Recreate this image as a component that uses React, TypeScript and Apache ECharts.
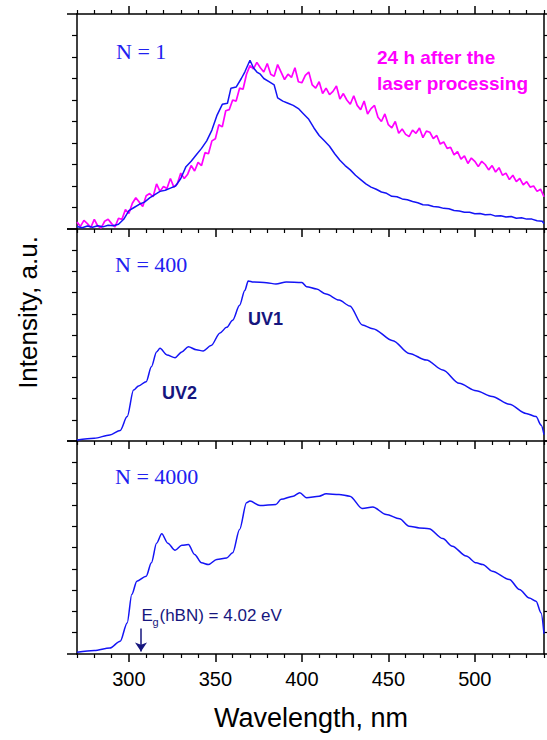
import React, { useEffect, useRef } from "react";
import * as echarts from "echarts";

// ---------- data ----------
const X_MIN = 270;
const X_MAX = 540;
const MAJOR_X = [300, 350, 400, 450, 500];
const MINOR_X = [270, 280, 290, 310, 320, 330, 340, 360, 370, 380, 390, 410, 420, 430, 440, 460, 470, 480, 490, 510, 520, 530, 540];
const X_LABELS = ["300", "350", "400", "450", "500"];

// Panel 1 (N = 1), blue: just after processing
const N1_FRESH: [number, number][] = [
  [270, 0.12], [273, 0.06], [276, 0.14], [279, 0.08], [282, 0.15], [285, 0.1], [288, 0.17], [291, 0.15],
  [294, 0.22], [297, 0.45], [300, 0.85], [303, 1.0], [306, 1.15], [309, 1.25], [312, 1.45], [315, 1.6],
  [318, 1.75], [321, 1.8], [324, 1.9], [327, 2.0], [330, 2.35], [333, 2.9], [336, 3.15], [339, 3.45],
  [342, 3.75], [345, 4.1], [348, 4.6], [351, 5.3], [354, 5.8], [357, 5.85], [359, 6.55], [362, 6.6],
  [365, 7.0], [367, 7.3], [370, 7.85], [372, 7.5], [374, 7.3], [376, 7.2], [378, 7.0], [381, 6.85],
  [384, 6.7], [386, 6.1], [389, 5.95], [392, 5.85], [395, 5.75], [398, 5.6], [401, 5.35], [404, 5.1],
  [407, 4.7], [410, 4.35], [413, 4.1], [416, 3.85], [419, 3.5], [422, 3.2], [425, 2.95], [428, 2.75],
  [431, 2.5], [434, 2.3], [437, 2.1], [440, 1.95], [443, 1.85], [446, 1.72], [449, 1.66], [452, 1.52],
  [455, 1.5], [458, 1.4], [461, 1.36], [464, 1.28], [467, 1.22], [470, 1.13], [473, 1.12], [476, 1.05],
  [479, 1.02], [482, 0.96], [485, 0.94], [488, 0.86], [491, 0.84], [494, 0.78], [497, 0.78], [500, 0.71],
  [503, 0.72], [506, 0.66], [509, 0.68], [512, 0.6], [515, 0.62], [518, 0.56], [521, 0.58], [524, 0.5],
  [527, 0.52], [530, 0.46], [533, 0.46], [536, 0.38], [539, 0.36], [540, 0.25],
];

// Panel 1, magenta: 24 h after the laser processing (noisy)
const N1_AFTER_24H: [number, number][] = [
  [270, 0.32], [272, 0.12], [274, 0.4], [276, 0.25], [278, 0.07], [280, 0.45], [282, 0.14], [284, 0.05],
  [286, 0.36], [288, 0.45], [290, 0.25], [292, 0.1], [294, 0.5], [296, 0.45], [298, 0.9], [300, 0.72],
  [302, 1.2], [304, 1.45], [306, 1.25], [308, 1.05], [310, 1.55], [312, 1.65], [314, 1.5], [316, 2.1],
  [318, 1.75], [320, 1.98], [322, 1.88], [324, 2.35], [326, 1.95], [328, 2.1], [330, 2.6], [332, 2.35],
  [334, 2.55], [336, 2.95], [338, 2.7], [340, 3.1], [342, 2.95], [344, 3.55], [346, 3.5], [348, 4.1],
  [350, 4.2], [352, 4.85], [354, 4.75], [356, 5.5], [358, 5.55], [360, 6.0], [362, 5.95], [364, 6.55],
  [366, 6.5], [368, 7.2], [370, 7.6], [372, 7.45], [374, 7.75], [376, 7.5], [378, 7.3], [380, 7.7],
  [382, 7.2], [384, 7.1], [386, 7.65], [388, 7.3], [390, 6.95], [392, 7.2], [394, 7.05], [396, 7.5],
  [398, 6.85], [400, 6.8], [402, 7.15], [404, 7.3], [406, 6.7], [408, 6.55], [410, 6.85], [412, 6.3],
  [414, 6.55], [416, 6.25], [418, 6.4], [420, 6.65], [422, 6.05], [424, 6.3], [426, 6.0], [428, 5.8],
  [430, 6.2], [432, 5.75], [434, 5.55], [436, 5.95], [438, 5.35], [440, 5.6], [442, 5.75], [444, 5.2],
  [446, 5.0], [448, 5.35], [450, 4.85], [452, 4.7], [454, 5.0], [456, 4.45], [458, 4.65], [460, 4.4],
  [462, 4.3], [464, 4.6], [466, 4.45], [468, 4.7], [470, 4.25], [472, 4.55], [474, 4.5], [476, 4.2],
  [478, 4.35], [480, 3.95], [482, 4.05], [484, 3.75], [486, 3.8], [488, 3.45], [490, 3.6], [492, 3.25],
  [494, 3.4], [496, 3.05], [498, 3.3], [500, 3.15], [502, 2.9], [504, 3.15], [506, 3.0], [508, 2.75],
  [510, 2.95], [512, 2.65], [514, 2.85], [516, 2.5], [518, 2.6], [520, 2.3], [522, 2.5], [524, 2.2],
  [526, 2.35], [528, 2.05], [530, 2.2], [532, 1.95], [534, 2.0], [536, 1.75], [538, 1.85], [540, 1.5],
];

// Panel 2 (N = 400)
const N400: [number, number][] = [
  [270, 0.05], [280, 0.13], [289, 0.28], [295, 0.5], [299, 1.15], [302.7, 2.4], [305.6, 2.6], [310, 2.8],
  [313, 3.5], [316, 4.2], [318, 4.37], [322, 4.06], [326.7, 3.93], [330.6, 4.2], [334.4, 4.45], [339, 4.3],
  [343, 4.25], [347.5, 4.5], [352.7, 5.1], [356.5, 5.36], [360, 5.7], [364, 6.4], [367, 7.1], [369, 7.55],
  [372, 7.5], [379.6, 7.47], [385, 7.4], [391, 7.5], [400, 7.48], [402.7, 7.28], [408.5, 7.17], [414, 6.93],
  [421.5, 6.65], [427.7, 6.37], [435, 5.47], [441, 5.3], [452.7, 4.73], [462, 4.13], [472, 3.82], [481.5, 3.35],
  [491, 2.72], [500.8, 2.37], [510, 2.1], [520, 1.73], [529.6, 1.3], [535.4, 1.15], [538.3, 0.75], [540, 0.3],
];

// Panel 3 (N = 4000)
const N4000: [number, number][] = [
  [270, 0.08], [280, 0.16], [289, 0.28], [295, 0.6], [299, 1.46], [301.7, 2.8], [304.6, 3.42], [310, 3.65],
  [313, 4.28], [316, 5.2], [319, 5.64], [322.5, 5.2], [326.7, 4.87], [330.6, 5.1], [334.4, 5.14], [338, 4.67],
  [342, 4.28], [346, 4.2], [350.8, 4.44], [356.5, 4.51], [360, 4.75], [364, 5.85], [368, 7.1], [370, 7.18],
  [375.8, 6.97], [385, 7.02], [388, 7.26], [395, 7.41], [398.8, 7.57], [402.7, 7.34], [410, 7.41], [414, 7.52],
  [421.5, 7.49], [427.7, 7.41], [435, 6.83], [441, 6.9], [448.8, 6.55], [456.5, 6.35], [462, 6.0], [468, 5.92],
  [473.5, 5.88], [481.5, 5.42], [487, 5.06], [495, 4.6], [500.8, 4.28], [504.6, 4.2], [510, 3.89], [520, 3.5],
  [525.8, 3.03], [531.5, 2.63], [535.4, 2.48], [538.3, 1.93], [540, 0.95],
];

const EG_WAVELENGTH = 307; // 4.02 eV band gap of hBN
const EG_ARROW_FROM = 1.2;
const EG_ARROW_TO = 0.12;

// ---------- styles ----------
const SANS = "'Liberation Sans', Arial, sans-serif";
const SERIF = "'Liberation Serif', 'Times New Roman', serif";
const BLUE = "#1414f5";
const MAGENTA = "#ff00ff";
const NAVY = "#16167e";
const LABEL_BLUE = "#2020f0";

const GRIDS = [
  { top: 14, height: 215 },
  { top: 229, height: 212 },
  { top: 441, height: 213 },
];

export default function App() {
  const ref = useRef<HTMLDivElement>(null);

  useEffect(() => {
    if (!ref.current) return;
    const chart = echarts.init(ref.current, undefined, { renderer: "svg" });

    const axisLine = { show: true, lineStyle: { color: "#000", width: 1.5 } };
    const xAxes: any[] = [];
    const xMainIndex: number[] = [];
    GRIDS.forEach((_, i) => {
      xMainIndex.push(xAxes.length);
      xAxes.push({
        type: "value", gridIndex: i, min: X_MIN, max: X_MAX, position: "bottom",
        axisLine,
        axisTick: { show: true, customValues: MAJOR_X, length: 8, lineStyle: { color: "#000", width: 1.5 } },
        axisLabel: i === 2
          ? {
              show: true, customValues: MAJOR_X, fontSize: 20, color: "#000", fontFamily: SANS, margin: 15,
              formatter: (v: number) => X_LABELS[MAJOR_X.indexOf(v)] ?? String(v),
            }
          : { show: false },
        splitLine: { show: false },
      });
      xAxes.push({
        type: "value", gridIndex: i, min: X_MIN, max: X_MAX, position: "bottom",
        axisLine: { show: false },
        axisTick: { show: true, customValues: MINOR_X, length: 4, lineStyle: { color: "#000", width: 1.2 } },
        axisLabel: { show: false },
        splitLine: { show: false },
      });
      if (i === 0) {
        xAxes.push({
          type: "value", gridIndex: 0, min: X_MIN, max: X_MAX, position: "top",
          axisLine,
          axisTick: { show: true, customValues: MAJOR_X, length: 8, lineStyle: { color: "#000", width: 1.5 } },
          axisLabel: { show: false },
          splitLine: { show: false },
        });
        xAxes.push({
          type: "value", gridIndex: 0, min: X_MIN, max: X_MAX, position: "top",
          axisLine: { show: false },
          axisTick: { show: true, customValues: MINOR_X, length: 4, lineStyle: { color: "#000", width: 1.2 } },
          axisLabel: { show: false },
          splitLine: { show: false },
        });
      }
    });

    const yAxes: any[] = [];
    const yMainIndex: number[] = [];
    GRIDS.forEach((_, i) => {
      yMainIndex.push(yAxes.length);
      ["left", "right"].forEach((pos) => {
        yAxes.push({
          type: "value", gridIndex: i, min: 0, max: 10, interval: 10, position: pos,
          axisLine,
          axisTick: { show: true, length: pos === "left" ? 10 : 5, lineStyle: { color: "#000", width: 1.5 } },
          minorTick: { show: true, splitNumber: 10, length: 5, lineStyle: { color: "#000", width: 1.2 } },
          axisLabel: { show: false },
          splitLine: { show: false },
          minorSplitLine: { show: false },
        });
      });
    });

    const lineSeries = (name: string, data: [number, number][], grid: number, color: string, width: number, extra: any = {}) => ({
      name, type: "line", data, xAxisIndex: xMainIndex[grid], yAxisIndex: yMainIndex[grid],
      showSymbol: false, symbol: "none", silent: true,
      lineStyle: { color, width }, itemStyle: { color }, ...extra,
    });

    const text = (t: string, x: number, y: number, font: string, fill: string, extra: any = {}) => ({
      type: "text", x, y, silent: true, ...extra,
      style: { text: t, font, fill, align: "left", verticalAlign: "middle", ...(extra.style || {}) },
    });

    chart.setOption({
      animation: false,
      grid: GRIDS.map((g) => ({ left: 77, right: 3, top: g.top, height: g.height, containLabel: false })),
      xAxis: xAxes,
      yAxis: yAxes,
      series: [
        lineSeries("24 h after the laser processing", N1_AFTER_24H, 0, MAGENTA, 1.7),
        lineSeries("N = 1", N1_FRESH, 0, BLUE, 1.5),
        lineSeries("N = 400", N400, 1, BLUE, 1.5, { smooth: 0.3, smoothMonotone: "x" }),
        lineSeries("N = 4000", N4000, 2, BLUE, 1.5, {
          smooth: 0.3, smoothMonotone: "x",
          markLine: {
            silent: true, animation: false,
            symbol: ["none", "arrow"], symbolSize: 9,
            label: { show: false },
            lineStyle: { color: NAVY, width: 1.5, type: "solid" },
            data: [[{ coord: [EG_WAVELENGTH, EG_ARROW_FROM] }, { coord: [EG_WAVELENGTH, EG_ARROW_TO] }]],
          },
        }),
      ],
      graphic: [
        text("N = 1", 116, 51, `22px ${SERIF}`, LABEL_BLUE),
        text("24 h after the", 377, 57, `bold 19px ${SANS}`, MAGENTA),
        text("laser processing", 377, 83.5, `bold 19px ${SANS}`, MAGENTA),
        text("N = 400", 115, 264, `22px ${SERIF}`, LABEL_BLUE),
        text("UV1", 248, 319, `bold 18px ${SANS}`, NAVY),
        text("UV2", 162, 392.5, `bold 18px ${SANS}`, NAVY),
        text("N = 4000", 115, 476, `22px ${SERIF}`, LABEL_BLUE),
        text("E", 141.5, 615.5, `17px ${SANS}`, NAVY),
        text("g", 152.5, 622, `11px ${SANS}`, NAVY),
        text("(hBN) = 4.02 eV", 159.5, 615.5, `17px ${SANS}`, NAVY),
        text("Wavelength, nm", 311, 718, `27px ${SANS}`, "#000", { style: { align: "center" } }),
        text("Intensity, a.u.", 27.5, 312.5, `26px ${SANS}`, "#000", {
          rotation: Math.PI / 2, style: { align: "center" },
        }),
      ],
    });

    return () => chart.dispose();
  }, []);

  return (
    <div
      ref={ref}
      style={{ position: "absolute", left: 0, top: 0, width: 547, height: 740, background: "#fff" }}
    />
  );
}
